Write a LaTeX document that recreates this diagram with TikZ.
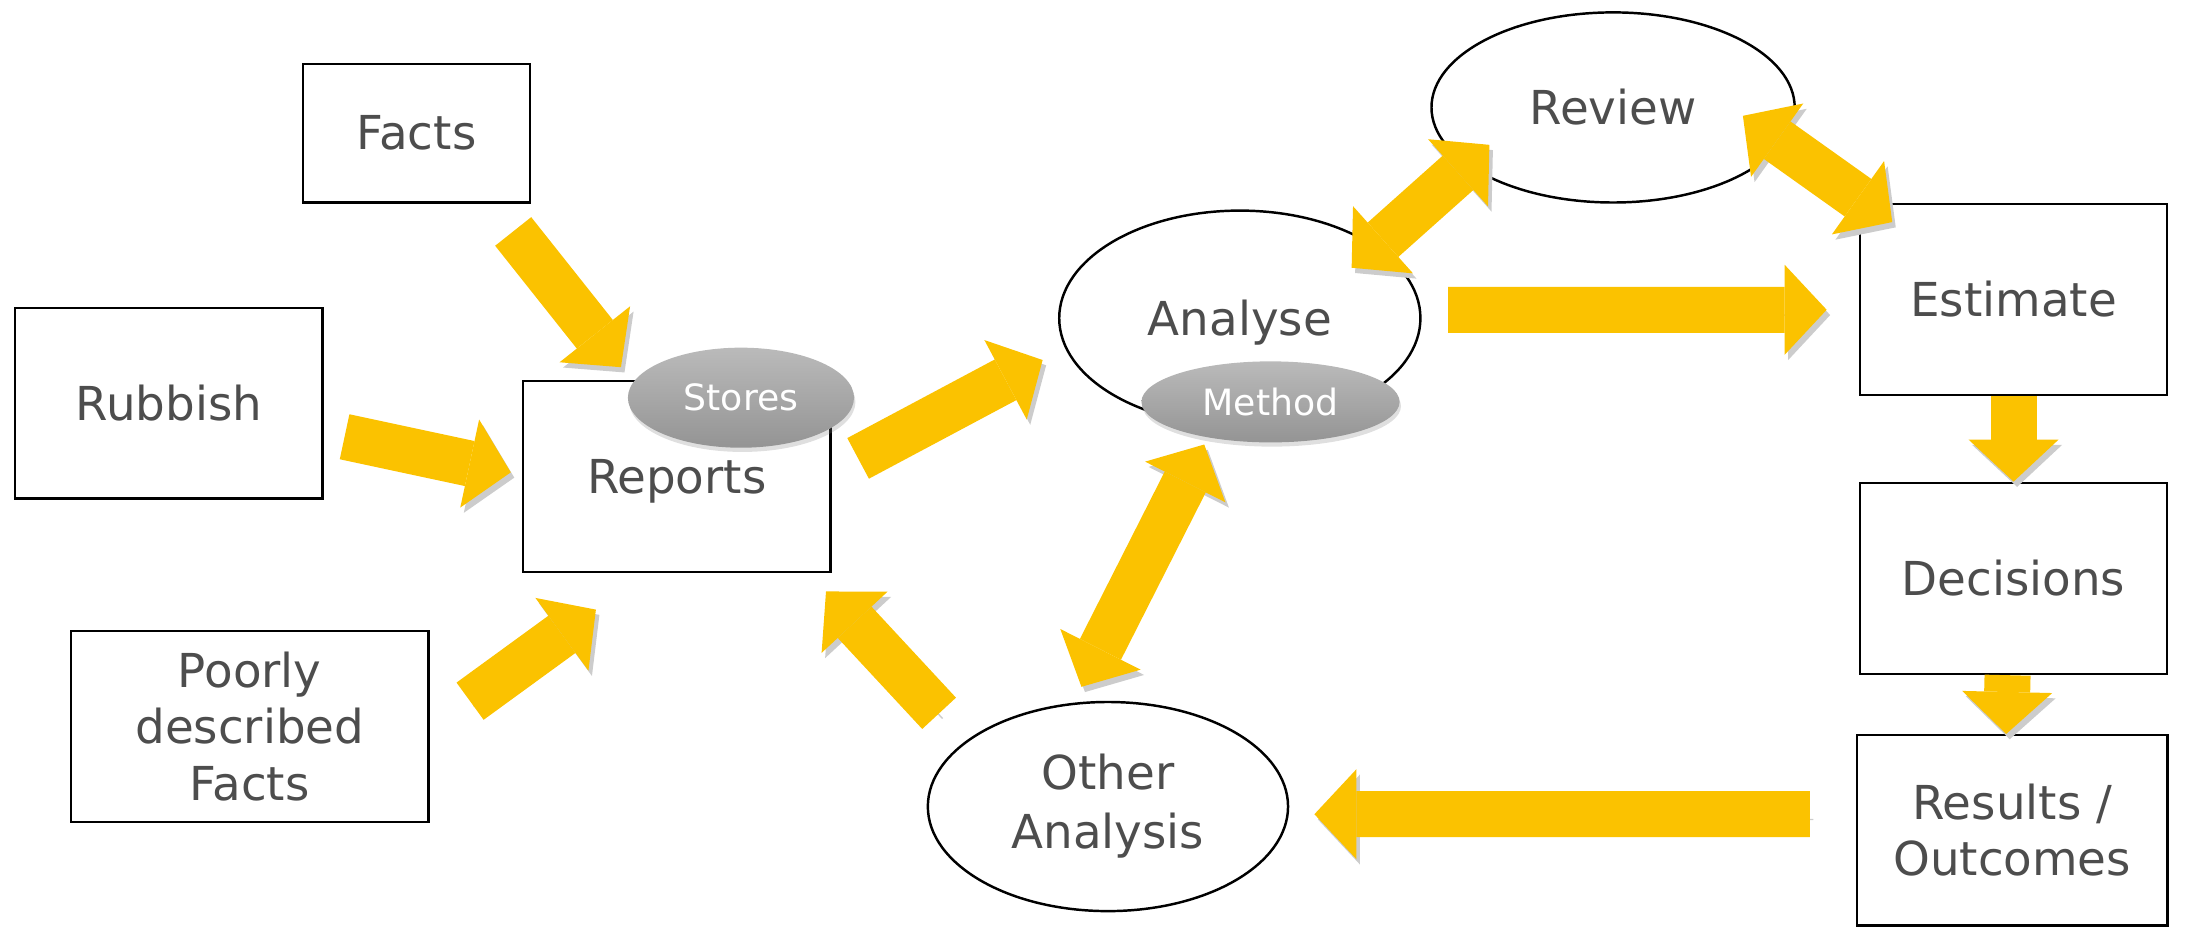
\documentclass[tikz,border=0pt]{standalone}
\usepackage{fontspec}
\setmainfont{DejaVu Sans}
\usetikzlibrary{arrows.meta, shapes, shadows}
\definecolor{txtgray}{RGB}{77,77,77}
\definecolor{arrowgold}{RGB}{251,194,0}
\tikzset{
		box/.style={draw, line width=0.7pt, text=txtgray, align=center, inner sep=0pt,
			font=\fontsize{13.3}{16}\selectfont},
		bubble/.style={box, ellipse},
		tag/.style={ellipse, inner sep=0pt, top color=black!27, bottom color=black!42, text=white,
			font=\fontsize{10.3}{12}\selectfont,
			drop shadow={opacity=0.25, shadow xshift=0.4pt, shadow yshift=-1.2pt}},
		goldtip/.tip={Triangle[width=0.9cm, length=0.42cm, line width=0pt]},
		bigarrow/.style={draw=arrowgold, line width=0.46cm, -goldtip,
			preaction={draw=black!20, transform canvas={shift={(1pt,-1.5pt)}}}},
		dblarrow/.style={bigarrow, goldtip-goldtip}
	}

\begin{document}
\begin{tikzpicture}[x=0.013954cm, y=-0.013954cm]
					\useasboundingbox (0,0) rectangle (1568,665);

					\node[box, minimum width=2.27cm, minimum height=1.38cm] (facts)   at (298.5,95.5) {Facts};
					\node[box, minimum width=3.07cm, minimum height=1.90cm] (rubbish) at (121,289)    {Rubbish};
					\node[box, minimum width=3.07cm, minimum height=1.91cm, text depth=0pt] (reports) at (485,341.5) {Reports};
					\node[box, minimum width=3.57cm, minimum height=1.91cm] (poorly)  at (179,520.5)  {Poorly\\described\\Facts};

					\node[bubble, minimum width=3.63cm, minimum height=1.90cm] (review)  at (1156,77)  {Review};
					\node[bubble, minimum width=3.61cm, minimum height=2.15cm, text depth=0pt] (analyse) at (888.5,228) {Analyse};
					\node[bubble, minimum width=3.60cm, minimum height=2.09cm, font=\fontsize{13.3}{16.8}\selectfont]
						(other) at (794,578) {Other\\Analysis};

					\node[box, minimum width=3.07cm, minimum height=1.91cm] (estimate)  at (1443,214.5) {Estimate};
					\node[box, minimum width=3.07cm, minimum height=1.91cm] (decisions) at (1443,414.5) {Decisions};
					\node[box, minimum width=3.10cm, minimum height=1.90cm] (results)   at (1442,595)   {Results /\\Outcomes};

					\node[tag, minimum width=2.26cm, minimum height=1.00cm] (stores) at (531,285)   {Stores};
					\node[tag, minimum width=2.58cm, minimum height=0.81cm] (method) at (910.5,288) {Method};

					\draw[bigarrow] ([shift={(-13,20)}]facts.south east) -- ([shift={(-40,-9)}]reports.north);
					\draw[bigarrow] ([shift={(15,24)}]rubbish.east) -- ([shift={(-8,-3)}]reports.west);
					\draw[bigarrow] ([shift={(29,-18)}]poorly.east) -- ([shift={(53,26)}]reports.south west);
					\draw[bigarrow] ([shift={(-121,9)}]other.north) -- ([shift={(-4,13)}]reports.south east);
					\draw[bigarrow] ([shift={(19,-13)}]reports.east) -- ([shift={(-11,30)}]analyse.west);
					\draw[bigarrow] ([shift={(19,-6)}]analyse.east) -- ([shift={(-23,7.5)}]estimate.west);
					\draw[dblarrow] ([shift={(-12,19)}]analyse.north east) -- ([shift={(4,-22)}]review.south west);
					\draw[dblarrow] ([shift={(-38,6)}]review.east) -- ([shift={(24,14)}]estimate.north west);
					\draw[dblarrow] ([shift={(-47.5,1)}]method.south) -- ([shift={(-19,-10)}]other.north);
					\draw[bigarrow] (estimate.south) -- (decisions.north);
					\draw[bigarrow] ([xshift=-0.06cm]decisions.south) -- ([xshift=-0.06cm]results.north);
					\draw[bigarrow] ([shift={(-33,-11.5)}]results.west) -- ([shift={(18,5.5)}]other.east);
				\end{tikzpicture}
\end{document}
